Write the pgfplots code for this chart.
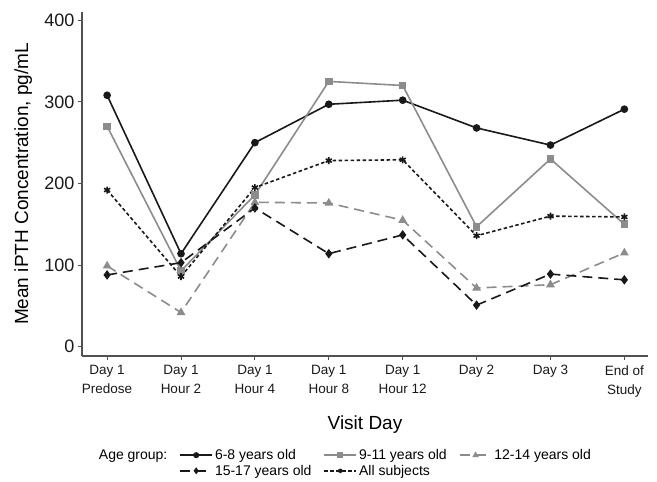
\documentclass[border=0pt]{standalone}
\usepackage{pgfplots}
\pgfplotsset{compat=1.18}
\usepackage{fontspec}
\setmainfont{Liberation Sans}
\definecolor{sblack}{RGB}{25,25,25}
\definecolor{sgray}{RGB}{140,140,140}
\definecolor{axgray}{RGB}{80,80,80}
\begin{document}
\begin{tikzpicture}
\begin{axis}[
  scale only axis,
  width=566pt, height=344pt,
  xmin=-0.34, xmax=7.32,
  ymin=-11.3, ymax=410,
  axis x line=bottom, axis y line=left,
  axis line style={-, axgray, line width=1.1pt},
  every tick/.style={axgray, line width=1pt},
  tick align=outside,
  major tick length=4pt,
  xtick={0,1,2,3,4,5,6,7},
  xticklabels={{Day 1\\Predose},{Day 1\\Hour 2},{Day 1\\Hour 4},{Day 1\\Hour 8},{Day 1\\Hour 12},{Day 2},{Day 3},{End of\\Study}},
  xticklabel style={align=center, font=\fontsize{13.5}{19}\selectfont, text=sblack, anchor=north, yshift=-2pt},
  ytick={0,100,200,300,400},
  yticklabel style={font=\fontsize{18}{20}\selectfont, text=sblack},
  /pgf/number format/assume math mode=true,
  xlabel={Visit Day},
  ylabel={Mean iPTH Concentration, pg/mL},
  xlabel style={font=\fontsize{19}{21}\selectfont, at={(axis description cs:0.5,-0.2)}, anchor=center},
  ylabel style={font=\fontsize{19}{21}\selectfont, at={(axis description cs:-0.104,0.5)}, anchor=center},
  legend columns=4,
  legend style={draw=none, fill=none, font=\fontsize{14}{16}\selectfont,
    at={(axis description cs:0.026,-0.265)}, anchor=north west,
    inner sep=0pt, row sep=0pt,
    /tikz/every even column/.append style={column sep=10pt}},
  legend cell align=left,
  legend image code/.code={\draw[mark repeat=2,mark phase=2,#1,mark size=2.2pt] plot coordinates {(0pt,0pt)(16pt,0pt)(32pt,0pt)};},
]
\coordinate (SW) at (rel axis cs:0,0);
\addlegendimage{empty legend}
\addlegendentry{Age group:}
\addplot[sblack, line width=1.6pt, mark=*, mark size=3pt, mark options={solid}] coordinates {
(0,308) (1,114) (2,250) (3,297) (4,302) (5,268) (6,247) (7,291)};
\addlegendentry{6-8 years old}
\addplot[sgray, line width=1.6pt, mark=square*, mark size=3pt, mark options={solid}] coordinates {
(0,270) (1,93) (2,186) (3,325) (4,320) (5,147) (6,230) (7,150)};
\addlegendentry{9-11 years old}
\addplot[sgray, line width=1.6pt, dash pattern=on 10pt off 6pt, mark=triangle*, mark size=3.5pt, mark options={solid}] coordinates {
(0,99) (1,42) (2,177) (3,176) (4,155) (5,72) (6,76) (7,115)};
\addlegendentry{12-14 years old}
\addlegendimage{empty legend}
\addlegendentry{}
\addplot[sblack, line width=1.6pt, dash pattern=on 10pt off 6pt, mark=diamond*, mark size=3.5pt, mark options={solid}] coordinates {
(0,88) (1,103) (2,170) (3,114) (4,137) (5,51) (6,89) (7,82)};
\addlegendentry{15-17 years old}
\addplot[sblack, line width=1.6pt, dash pattern=on 3.5pt off 2.5pt, mark=asterisk, mark size=3.5pt, mark options={solid}] coordinates {
(0,192) (1,86) (2,195) (3,228) (4,229) (5,136) (6,160) (7,159)};
\addlegendentry{All subjects}
\end{axis}
\path (SW) ++(-82pt,-126pt) rectangle ++(657pt,482pt);
\end{tikzpicture}
\end{document}
